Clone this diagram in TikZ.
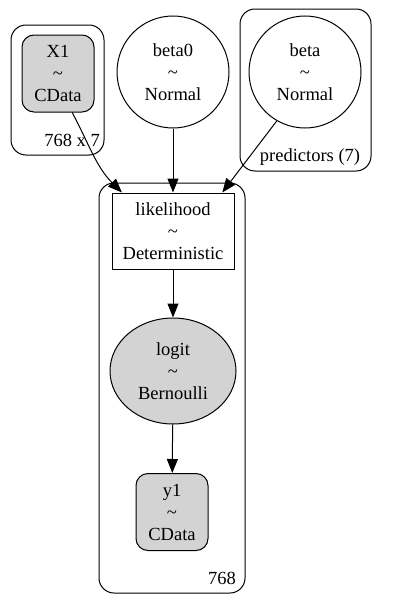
\documentclass[tikz,border=0pt]{standalone}
\usepackage{fontspec}
\setmainfont{Liberation Serif}
\usetikzlibrary{arrows.meta,shapes.geometric}
\definecolor{gvgray}{HTML}{D3D3D3}
\tikzset{
	lbl/.style={font=\fontsize{18.5}{22}\selectfont, align=center, inner sep=0pt},
	obsnode/.style={lbl, draw, line width=1pt, fill=gvgray, rounded corners=12pt, minimum width=72pt, minimum height=77pt},
	freenode/.style={lbl, draw, line width=1pt, circle, minimum size=112pt},
	detnode/.style={lbl, draw, line width=1pt, rectangle, minimum width=122pt, minimum height=76pt},
	likenode/.style={lbl, draw, line width=1pt, fill=gvgray, ellipse, minimum width=126pt, minimum height=106pt},
	plate/.style={draw, line width=1pt, rounded corners=15pt},
	edge/.style={line width=1pt, -{Triangle[length=14pt,width=11pt]}}
}
\begin{document}
\begin{tikzpicture}[x=1pt,y=-1pt]
		\useasboundingbox (0,0) rectangle (407,613);
		% plates
		\draw[plate] (11,25) rectangle (104,155);
		\draw[plate] (240,9) rectangle (371,171);
		\draw[plate] (99,183) rectangle (245,593);
		\node[lbl] (dimX) at (72,140) {768 x 7};
		\node[lbl] (dimpred) at (310,157) {predictors (7)};
		\node[lbl] (dimobs) at (222,578) {768};
		% variables
		\node[obsnode] (X1) at (58,73.5) {X1\\\textasciitilde\\CData};
		\node[freenode] (beta0) at (173,72) {beta0\\\textasciitilde\\Normal};
		\node[freenode] (beta) at (305,72) {beta\\\textasciitilde\\Normal};
		\node[detnode] (likelihood) at (173,231) {likelihood\\\textasciitilde\\Deterministic};
		\node[likenode] (logit) at (173,371) {logit\\\textasciitilde\\Bernoulli};
		\node[obsnode] (y1) at (172,512) {y1\\\textasciitilde\\CData};
		% edges
		\draw[edge] (X1.-70) to[out=-62,in=135] (likelihood.143);
		\draw[edge] (beta0) -- (likelihood);
		\draw[edge] (beta.-120) -- (likelihood.38);
		\draw[edge] (likelihood) -- (logit);
		\draw[edge] (logit) -- (y1);
	\end{tikzpicture}
\end{document}
